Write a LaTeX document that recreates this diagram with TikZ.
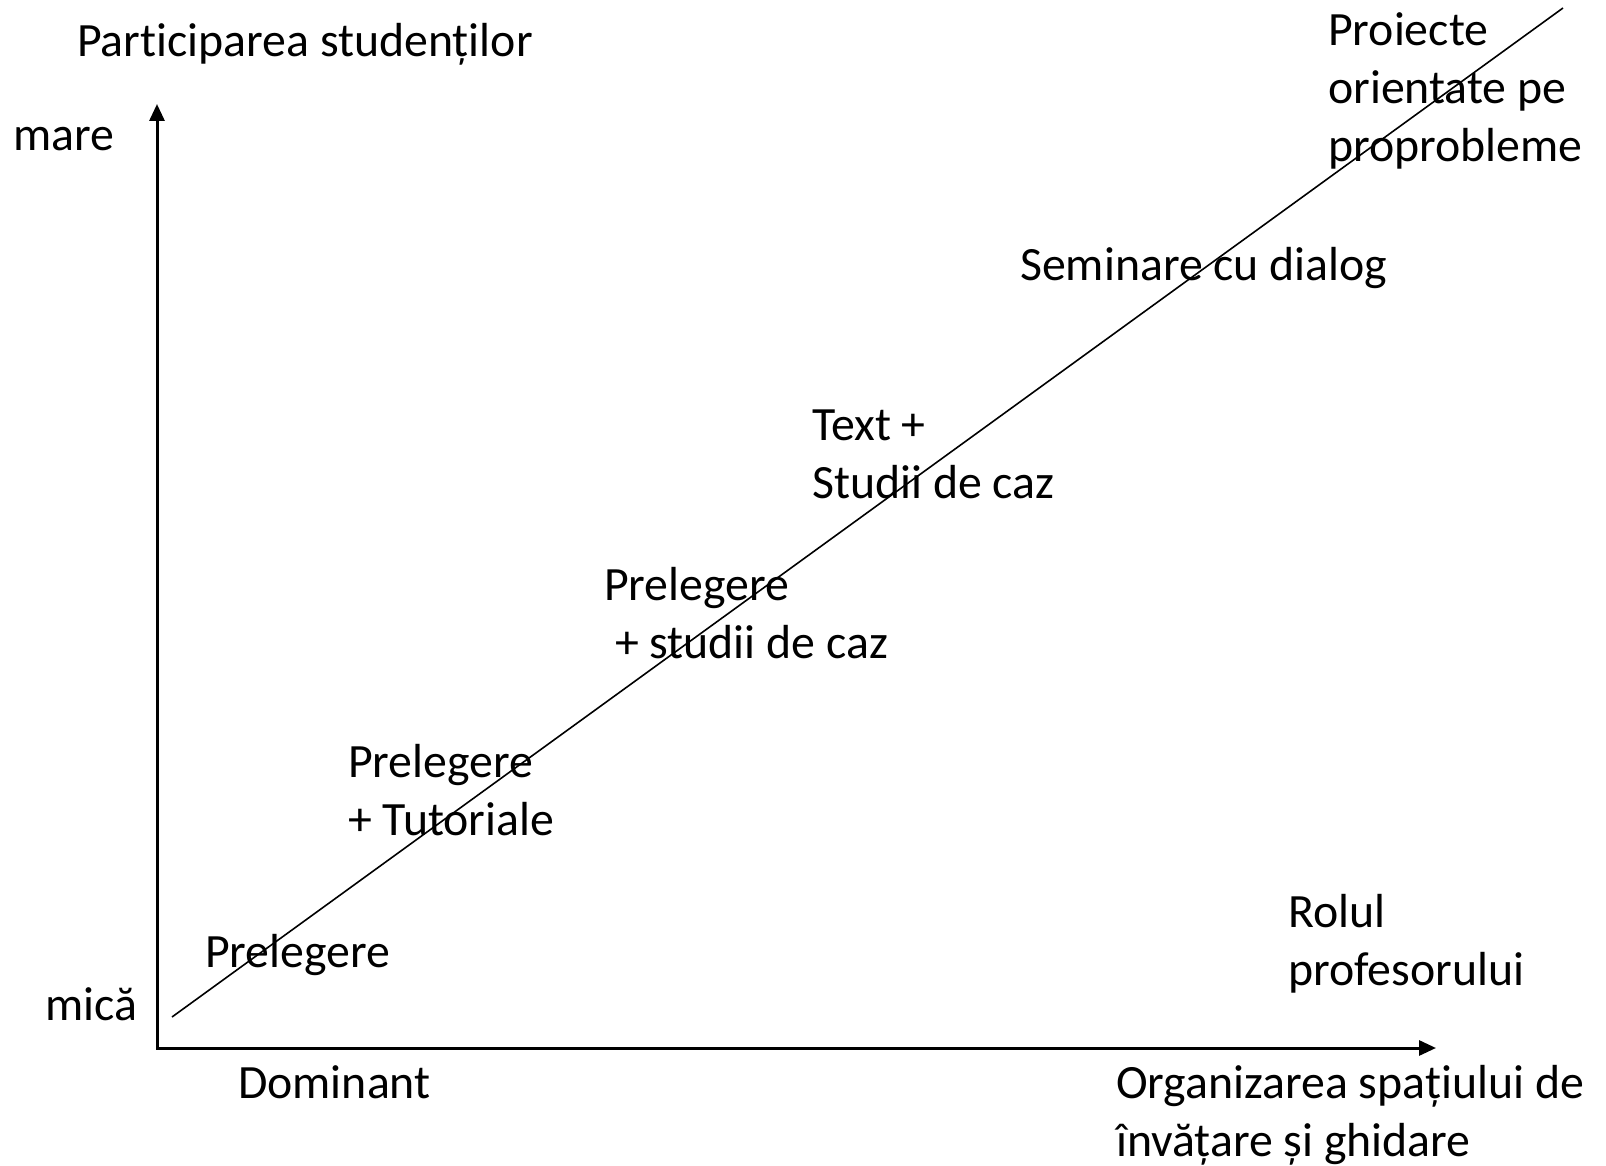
\documentclass[tikz,border=0pt]{standalone}
\usepackage{fontspec}
\setmainfont[Ligatures=NoCommon]{Carlito}
\usetikzlibrary{arrows.meta}

\begin{document}
\begin{tikzpicture}[x=1pt, y=1pt,
	label text/.style={anchor=west, align=left, inner sep=0pt, font=\fontsize{47.8}{58}\selectfont},
	axis/.style={line width=3pt, -{Triangle[length=17pt, width=15pt]}},
	diag/.style={line width=1.6pt}]
	\useasboundingbox (0,0) rectangle (1606,-1166);

	% axes
	\coordinate (origin) at (157,-1048);
	\coordinate (ytip) at (157,-104);
	\coordinate (xtip) at (1436,-1048);
	\draw[axis] (origin |- 0,-1049.5) -- (ytip);
	\draw[axis] (origin) -- (xtip);

	% diagonal
	\coordinate (diagStart) at (172,-1017);
	\coordinate (diagEnd) at (1563,-8);
	\draw[diag] (diagStart) -- (diagEnd);

	% axis labels
	\node[label text] (participare) at (77,-44) {Participarea studenților};
	\node[label text] (mare) at (13,-139) {mare};
	\node[label text] (mica) at (45,-1004) {mică};
	\node[label text] (dominant) at (238,-1082) {Dominant};
	\node[label text] (organizare) at (1116,-1115) {Organizarea spațiului de\\învățare și ghidare};
	\node[label text] (rol) at (1288,-944) {Rolul\\profesorului};

	% methods
	\node[label text] (prel) at (205,-955) {Prelegere};
	\node[label text] (prelTut) at (348,-790) {Prelegere\\+ Tutoriale};
	\node[label text] (prelStudii) at (604,-613) {Prelegere\\\ + studii de caz};
	\node[label text] (textStudii) at (812,-454) {Text +\\Studii de caz};
	\node[label text] (seminar) at (1020,-268) {Seminare cu dialog};
	\node[label text] (proiecte) at (1328,-91) {Proiecte\\orientate pe\\proprobleme};
\end{tikzpicture}
\end{document}
